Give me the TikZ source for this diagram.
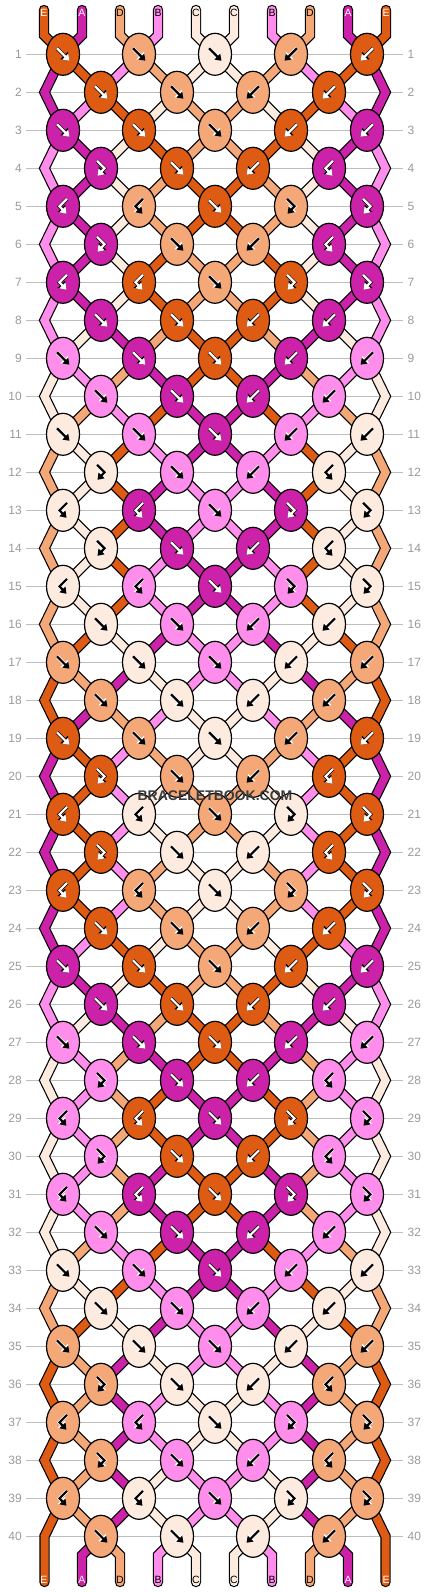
\documentclass[tikz,border=0pt]{standalone}
\usepackage{fontspec}
\setmainfont{Liberation Sans}
\usetikzlibrary{shapes.geometric,arrows.meta}
\definecolor{cE}{HTML}{DE5B14}
\definecolor{cA}{HTML}{CC22AA}
\definecolor{cD}{HTML}{F5A877}
\definecolor{cB}{HTML}{FF8DEC}
\definecolor{cC}{HTML}{FDEBDF}
\colorlet{aE}{white}\colorlet{aA}{white}\colorlet{aD}{black}\colorlet{aB}{black}\colorlet{aC}{black}
\colorlet{oE}{black}\colorlet{oA}{black}\colorlet{oD}{white}\colorlet{oB}{white}\colorlet{oC}{white}
\definecolor{gridc}{HTML}{BEBEBE}
\definecolor{numc}{HTML}{9A9A9A}
\definecolor{wmc}{HTML}{3A3A3A}
\tikzset{
  strout/.style={line width=10.4pt, black, line cap=round, line join=miter},
  strin/.style={line width=8pt, line cap=round, line join=miter},
  knot/.style={ellipse, draw=black, line width=1.2pt, minimum width=33pt, minimum height=42pt, inner sep=0pt},
  glout/.style={line width=3.6pt, line join=miter, -{Triangle[length=7.5pt,width=10pt]}},
  glin/.style={line width=2.2pt, line join=miter, -{Triangle[length=6pt,width=8pt]}},
  rownum/.style={text=numc, font=\fontsize{12}{14}\selectfont, inner sep=0pt},
  stublabel/.style={font=\fontsize{10.5}{12}\selectfont, inner sep=0pt}
}
\newcommand\PosX[2]{%
  \ifodd#2\relax
    \pgfmathsetmacro\px{63+76*(ceil(#1/2)-1)}%
  \else
    \ifnum#1=1 \def\px{44.5}%
    \else\ifnum#1=10 \def\px{385.5}%
    \else \pgfmathsetmacro\px{101+76*(floor(#1/2)-1)}%
    \fi\fi
  \fi}
\newcommand\Strand[2]{\draw[strout] #2;\draw[strin,c#1] #2;}
\newcommand\drawF[2]{\draw[glout,#2] (-6,-6) -- (6.5,6.5);\draw[glin,#1] (-6,-6) -- (6.5,6.5);}
\newcommand\drawB[2]{\draw[glout,#2] (6,-6) -- (-6.5,6.5);\draw[glin,#1] (6,-6) -- (-6.5,6.5);}
\newcommand\drawFB[2]{\draw[glout,#2] (-4,-7.5) -- (3.5,0) -- (-3.5,7.5);\draw[glin,#1] (-4,-7.5) -- (3.5,0) -- (-3.5,7.5);}
\newcommand\drawBF[2]{\draw[glout,#2] (4,-7.5) -- (-3.5,0) -- (3.5,7.5);\draw[glin,#1] (4,-7.5) -- (-3.5,0) -- (3.5,7.5);}
\begin{document}
\begin{tikzpicture}[x=1pt,y=-1pt]
\useasboundingbox (0,0) rectangle (430,1592);
\fill[white] (0,0) rectangle (430,1592);
% grid lines and row numbers
\foreach \r in {1,...,40} {
  \pgfmathsetmacro\gy{54.3+38*(\r-1)}
  \draw[gridc, line width=1pt] (26,\gy) -- (403,\gy);
  \node[rownum, anchor=east] (ln-\r) at (22,\gy) {\r};
  \node[rownum, anchor=west] (rn-\r) at (407.5,\gy) {\r};
}
% top stubs
\foreach \sc [count=\p] in {E,A,D,B,C,C,B,D,A,E} {
  \pgfmathsetmacro\xs{44+38*(\p-1)}
  \PosX{\p}{1}
  \Strand{\sc}{(\xs,10) -- (\xs,35.3) -- (\px,54.3)}
}
% strands between rows
\foreach \st [count=\r] in {
 {A,E,B,D,C,C,D,B,E,A},{A,B,E,C,D,D,C,E,B,A},{B,A,C,E,D,D,E,C,A,B},{B,A,C,D,E,E,D,C,A,B},
 {B,A,C,D,E,E,D,C,A,B},{B,A,C,E,D,D,E,C,A,B},{B,A,C,E,D,D,E,C,A,B},{B,C,A,D,E,E,D,A,C,B},
 {C,B,D,A,E,E,A,D,B,C},{C,D,B,E,A,A,E,B,D,C},{D,C,E,B,A,A,B,E,C,D},{D,C,E,A,B,B,A,E,C,D},
 {D,C,E,A,B,B,A,E,C,D},{D,C,E,B,A,A,B,E,C,D},{D,C,E,B,A,A,B,E,C,D},{D,E,C,A,B,B,A,C,E,D},
 {E,D,A,C,B,B,C,A,D,E},{E,A,D,B,C,C,B,D,A,E},{A,E,B,D,C,C,D,B,E,A},{A,E,B,C,D,D,C,B,E,A},
 {A,E,B,C,D,D,C,B,E,A},{A,E,B,D,C,C,D,B,E,A},{A,E,B,D,C,C,D,B,E,A},{A,B,E,C,D,D,C,E,B,A},
 {B,A,C,E,D,D,E,C,A,B},{B,C,A,D,E,E,D,A,C,B},{C,B,D,A,E,E,A,D,B,C},{C,B,D,E,A,A,E,D,B,C},
 {C,B,D,E,A,A,E,D,B,C},{C,B,D,A,E,E,A,D,B,C},{C,B,D,A,E,E,A,D,B,C},{C,D,B,E,A,A,E,B,D,C},
 {D,C,E,B,A,A,B,E,C,D},{D,E,C,A,B,B,A,C,E,D},{E,D,A,C,B,B,C,A,D,E},{E,D,A,B,C,C,B,A,D,E},
 {E,D,A,B,C,C,B,A,D,E},{E,D,A,C,B,B,C,A,D,E},{E,D,A,C,B,B,C,A,D,E}} {
  \foreach \sc [count=\p] in \st {
    \pgfmathsetmacro\ya{54.3+38*(\r-1)}
    \pgfmathsetmacro\yb{\ya+38}
    \pgfmathsetmacro\yc{\ya+76}
    \PosX{\p}{\r}\let\xa\px
    \pgfmathtruncatemacro\rn{\r+1}
    \PosX{\p}{\rn}\let\xb\px
    \pgfmathtruncatemacro\isedge{(\p==1)||(\p==10)}
    \ifnum\isedge=1
      \ifodd\r
        \ifnum\r=39
          \Strand{\sc}{(\xa,\ya) -- (\xb,\yb) -- (\xb,1582)}
        \else
          \pgfmathtruncatemacro\rnn{\r+2}
          \PosX{\p}{\rnn}\let\xc\px
          \Strand{\sc}{(\xa,\ya) -- (\xb,\yb) -- (\xc,\yc)}
        \fi
      \fi
    \else
      \Strand{\sc}{(\xa,\ya) -- (\xb,\yb)}
    \fi
  }
}
% bottom stubs
\foreach \sc [count=\p] in {E,A,D,B,C,C,B,D,A,E} {
  \pgfmathsetmacro\xs{44+38*(\p-1)}
  \ifnum\p>1 \ifnum\p<10
    \PosX{\p}{40}
    \Strand{\sc}{(\px,1536.3) -- (\xs,1555.3) -- (\xs,1582)}
  \fi\fi
}
% knots
\foreach \row [count=\r] in {
 {F/E,F/D,F/C,B/D,B/E},{F/E,F/D,B/D,B/E},{F/A,F/E,F/D,B/E,B/A},{FB/A,F/E,B/E,BF/A},
 {BF/A,BF/D,F/E,FB/D,FB/A},{FB/A,F/D,B/D,BF/A},{BF/A,BF/E,F/D,FB/E,FB/A},{F/A,F/E,B/E,B/A},
 {F/B,F/A,F/E,B/A,B/B},{F/B,F/A,B/A,B/B},{F/C,F/B,F/A,B/B,B/C},{FB/C,F/B,B/B,BF/C},
 {BF/C,BF/A,F/B,FB/A,FB/C},{FB/C,F/A,B/A,BF/C},{BF/C,BF/B,F/A,FB/B,FB/C},{F/C,F/B,B/B,B/C},
 {F/D,F/C,F/B,B/C,B/D},{F/D,F/C,B/C,B/D},{F/E,F/D,F/C,B/D,B/E},{FB/E,F/D,B/D,BF/E},
 {BF/E,BF/C,F/D,FB/C,FB/E},{FB/E,F/C,B/C,BF/E},{BF/E,BF/D,F/C,FB/D,FB/E},{F/E,F/D,B/D,B/E},
 {F/A,F/E,F/D,B/E,B/A},{F/A,F/E,B/E,B/A},{F/B,F/A,F/E,B/A,B/B},{FB/B,F/A,B/A,BF/B},
 {BF/B,BF/E,F/A,FB/E,FB/B},{FB/B,F/E,B/E,BF/B},{BF/B,BF/A,F/E,FB/A,FB/B},{F/B,F/A,B/A,B/B},
 {F/C,F/B,F/A,B/B,B/C},{F/C,F/B,B/B,B/C},{F/D,F/C,F/B,B/C,B/D},{FB/D,F/C,B/C,BF/D},
 {BF/D,BF/B,F/C,FB/B,FB/D},{FB/D,F/B,B/B,BF/D},{BF/D,BF/C,F/B,FB/C,FB/D},{F/D,F/C,B/C,B/D}} {
  \pgfmathsetmacro\ky{54.3+38*(\r-1)}
  \foreach \kt/\kc [count=\k] in \row {
    \ifodd\r
      \pgfmathsetmacro\kx{63+76*(\k-1)}
    \else
      \pgfmathsetmacro\kx{101+76*(\k-1)}
    \fi
    \node[knot, fill=c\kc] (k\r-\k) at (\kx,\ky) {};
    \begin{scope}[shift={(\kx,\ky)}]
      \csname draw\kt\endcsname{a\kc}{o\kc}
    \end{scope}
  }
}
% string labels
\foreach \sc [count=\p] in {E,A,D,B,C,C,B,D,A,E} {
  \pgfmathsetmacro\xs{44+38*(\p-1)}
  \node[stublabel, text=a\sc] (top-\p) at (\xs,13) {\sc};
  \node[stublabel, text=a\sc] (bot-\p) at (\xs,1580) {\sc};
}
% watermark
\node[font=\bfseries\fontsize{14}{14}\selectfont, text=wmc, inner sep=0pt] (wm) at (215,795.5) {BRACELETBOOK.COM};
\end{tikzpicture}
\end{document}
